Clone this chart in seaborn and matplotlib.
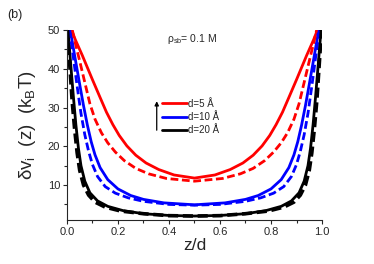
import matplotlib
matplotlib.use("Agg")
import matplotlib.pyplot as plt
from matplotlib.ticker import MultipleLocator, FormatStrFormatter
import seaborn as sns
import pandas as pd

# red: d=5 A
z_red = [0.018, 0.033, 0.06, 0.10, 0.13, 0.155, 0.18, 0.205, 0.235, 0.27, 0.31, 0.36, 0.42, 0.50,
         0.58, 0.64, 0.69, 0.73, 0.765, 0.795, 0.82, 0.845, 0.87, 0.90, 0.94, 0.967, 0.982]
v_red = [50, 47.5, 43.5, 37.2, 32.6, 28.8, 25.6, 22.8, 20.1, 17.7, 15.7, 14.0, 12.6, 11.8,
         12.6, 14.0, 15.7, 17.7, 20.1, 22.8, 25.6, 28.8, 32.6, 37.2, 43.5, 47.5, 50]
z_red_d = [0.021, 0.033, 0.05, 0.07, 0.09, 0.11, 0.135, 0.16, 0.19, 0.225, 0.27, 0.32, 0.39, 0.50,
           0.61, 0.68, 0.73, 0.775, 0.81, 0.84, 0.865, 0.89, 0.91, 0.93, 0.95, 0.967, 0.979]
v_red_d = [50, 46.6, 42, 36.5, 31, 27.0, 23.5, 20.9, 18.5, 16.3, 14.3, 12.9, 11.7, 11.0,
           11.7, 12.9, 14.3, 16.3, 18.5, 20.9, 23.5, 27.0, 31, 36.5, 42, 46.6, 50]

# blue: d=10 A
z_blue = [0.013, 0.03, 0.05, 0.065, 0.08, 0.095, 0.11, 0.13, 0.16, 0.20, 0.25, 0.30, 0.38, 0.50,
          0.62, 0.70, 0.75, 0.80, 0.84, 0.87, 0.89, 0.905, 0.92, 0.935, 0.95, 0.97, 0.987]
v_blue = [50, 43.5, 36, 30.5, 25.5, 21.2, 17.8, 14.5, 11.4, 9.0, 7.3, 6.3, 5.4, 4.9,
          5.4, 6.3, 7.3, 9.0, 11.4, 14.5, 17.8, 21.2, 25.5, 30.5, 36, 43.5, 50]
z_blue_d = [0.01, 0.025, 0.04, 0.055, 0.07, 0.085, 0.10, 0.12, 0.15, 0.19, 0.24, 0.30, 0.40, 0.50,
            0.60, 0.70, 0.76, 0.81, 0.85, 0.88, 0.90, 0.915, 0.93, 0.945, 0.96, 0.975, 0.99]
v_blue_d = [50, 43, 35.5, 28.5, 23, 18.7, 15.3, 12.2, 9.6, 7.9, 6.7, 5.8, 5.0, 4.8,
            5.0, 5.8, 6.7, 7.9, 9.6, 12.2, 15.3, 18.7, 23, 28.5, 35.5, 43, 50]

# black: d=20 A
z_black = [0.004, 0.015, 0.025, 0.035, 0.045, 0.055, 0.07, 0.09, 0.12, 0.16, 0.22, 0.30, 0.40, 0.50,
           0.60, 0.70, 0.78, 0.84, 0.88, 0.91, 0.93, 0.945, 0.955, 0.965, 0.975, 0.985, 0.996]
v_black = [50, 41, 33, 25.6, 19.5, 15.0, 11.0, 8.0, 5.9, 4.5, 3.4, 2.6, 2.15, 2.0,
           2.15, 2.6, 3.4, 4.5, 5.9, 8.0, 11.0, 15.0, 19.5, 25.6, 33, 41, 50]
z_black_d = [0.002, 0.01, 0.02, 0.03, 0.04, 0.05, 0.065, 0.085, 0.11, 0.15, 0.21, 0.30, 0.40, 0.50,
             0.60, 0.70, 0.79, 0.85, 0.89, 0.915, 0.935, 0.95, 0.96, 0.97, 0.98, 0.99, 0.998]
v_black_d = [50, 42, 32, 24.5, 18.3, 13.8, 10.0, 7.4, 5.6, 4.3, 3.3, 2.6, 2.1, 2.0,
             2.1, 2.6, 3.3, 4.3, 5.6, 7.4, 10.0, 13.8, 18.3, 24.5, 32, 42, 50]

labels = ["d=5 Å", "d=10 Å", "d=20 Å"]

sns.set_style("ticks")
plt.rcParams["font.family"] = ["Liberation Sans", "DejaVu Sans"]
plt.rcParams["mathtext.default"] = "regular"

fig = plt.figure(figsize=(3.74, 2.64), dpi=100)
ax = fig.add_axes([0.179, 0.167, 0.682, 0.719])

curves = [
    (z_red, v_red, "#ff0000", "-", labels[0], 2.0),
    (z_blue, v_blue, "#0000ff", "-", labels[1], 2.0),
    (z_black, v_black, "#000000", "-", labels[2], 2.0),
    (z_red_d, v_red_d, "#ff0000", "--", None, 2.0),
    (z_blue_d, v_blue_d, "#0000ff", "--", None, 2.0),
    (z_black_d, v_black_d, "#000000", "--", None, 2.6),
]
for z, v, c, ls, lab, lw in curves:
    df = pd.DataFrame({"z": z, "v": v})
    line_kw = dict(color=c, linewidth=lw, estimator=None, sort=False, ax=ax)
    if ls == "--":
        sns.lineplot(data=df, x="z", y="v", linestyle=(0, (2.8, 1.3)), **line_kw)
    else:
        sns.lineplot(data=df, x="z", y="v", label=lab, **line_kw)

ax.set_xlim(0, 1)
ax.set_ylim(1, 50)
ax.xaxis.set_major_locator(MultipleLocator(0.2))
ax.xaxis.set_minor_locator(MultipleLocator(0.1))
ax.yaxis.set_major_locator(MultipleLocator(10))
ax.yaxis.set_minor_locator(MultipleLocator(5))
ax.xaxis.set_major_formatter(FormatStrFormatter("%.1f"))
ax.tick_params(which="major", direction="out", length=3, width=0.8, labelsize=8, pad=2)
ax.tick_params(which="minor", direction="out", length=2, width=0.8)
for s in ["top", "right"]:
    ax.spines[s].set_visible(False)
for s in ["left", "bottom"]:
    ax.spines[s].set_linewidth(0.8)

ax.set_xlabel("z/d", fontsize=12.5, labelpad=1)
ax.set_ylabel("δv$_i$  (z)  (k$_B$T)", fontsize=13.5, labelpad=7)

ax.legend(loc="upper left", bbox_to_anchor=(0.356, 0.66), frameon=False, fontsize=7,
          handlelength=2.6, handletextpad=0.1, labelspacing=0.35, borderaxespad=0)

ax.annotate("", xy=(0.352, 0.64), xytext=(0.352, 0.458), xycoords="axes fraction",
            arrowprops=dict(arrowstyle="-|>", color="black", lw=0.9, mutation_scale=6))

ax.text(0.391, 0.937, "ρ$_{sb}$= 0.1 M", transform=ax.transAxes, fontsize=7.5, va="baseline")
fig.text(0.02, 0.93, "(b)", fontsize=9, va="baseline")

plt.savefig("out.png", dpi=100)
